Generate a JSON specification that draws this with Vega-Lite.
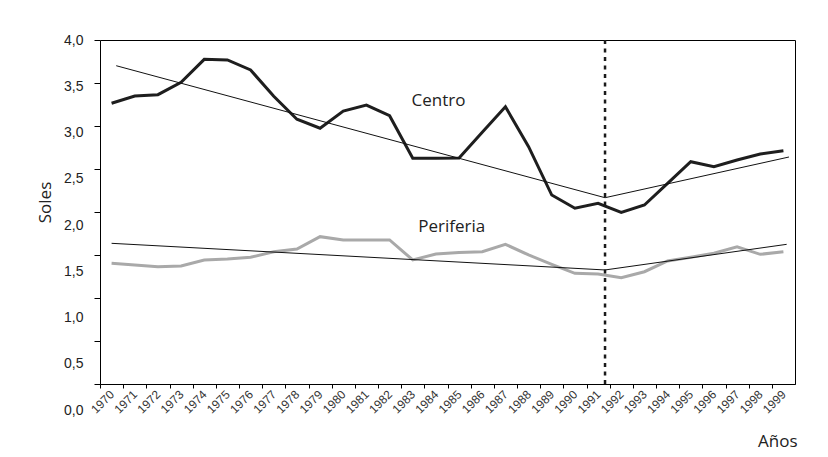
{
  "$schema": "https://vega.github.io/schema/vega-lite/v6.json",
  "width": 695,
  "height": 344,
  "autosize": {"type": "none"},
  "padding": {"left": 100, "top": 40, "right": 33, "bottom": 73},
  "background": "#ffffff",
  "config": {
    "view": {"stroke": "#000000", "strokeWidth": 1},
    "axis": {"grid": false, "domainColor": "#000000", "tickColor": "#000000", "labelColor": "#222222", "titleColor": "#222222"}
  },
  "datasets": {
    "datos": [
      {"año": 1970, "serie": "Centro", "soles": 3.316},
      {"año": 1971, "serie": "Centro", "soles": 3.395},
      {"año": 1972, "serie": "Centro", "soles": 3.409},
      {"año": 1973, "serie": "Centro", "soles": 3.543},
      {"año": 1974, "serie": "Centro", "soles": 3.791},
      {"año": 1975, "serie": "Centro", "soles": 3.784},
      {"año": 1976, "serie": "Centro", "soles": 3.676},
      {"año": 1977, "serie": "Centro", "soles": 3.391},
      {"año": 1978, "serie": "Centro", "soles": 3.143},
      {"año": 1979, "serie": "Centro", "soles": 3.046},
      {"año": 1980, "serie": "Centro", "soles": 3.232},
      {"año": 1981, "serie": "Centro", "soles": 3.297},
      {"año": 1982, "serie": "Centro", "soles": 3.182},
      {"año": 1983, "serie": "Centro", "soles": 2.721},
      {"año": 1984, "serie": "Centro", "soles": 2.721},
      {"año": 1985, "serie": "Centro", "soles": 2.724},
      {"año": 1986, "serie": "Centro", "soles": 3.002},
      {"año": 1987, "serie": "Centro", "soles": 3.279},
      {"año": 1988, "serie": "Centro", "soles": 2.847},
      {"año": 1989, "serie": "Centro", "soles": 2.324},
      {"año": 1990, "serie": "Centro", "soles": 2.181},
      {"año": 1991, "serie": "Centro", "soles": 2.235},
      {"año": 1992, "serie": "Centro", "soles": 2.137},
      {"año": 1993, "serie": "Centro", "soles": 2.216},
      {"año": 1994, "serie": "Centro", "soles": 2.451},
      {"año": 1995, "serie": "Centro", "soles": 2.684},
      {"año": 1996, "serie": "Centro", "soles": 2.630},
      {"año": 1997, "serie": "Centro", "soles": 2.703},
      {"año": 1998, "serie": "Centro", "soles": 2.768},
      {"año": 1999, "serie": "Centro", "soles": 2.803},
      {"año": 1970, "serie": "Periferia", "soles": 1.586},
      {"año": 1971, "serie": "Periferia", "soles": 1.568},
      {"año": 1972, "serie": "Periferia", "soles": 1.549},
      {"año": 1973, "serie": "Periferia", "soles": 1.557},
      {"año": 1974, "serie": "Periferia", "soles": 1.622},
      {"año": 1975, "serie": "Periferia", "soles": 1.632},
      {"año": 1976, "serie": "Periferia", "soles": 1.651},
      {"año": 1977, "serie": "Periferia", "soles": 1.711},
      {"año": 1978, "serie": "Periferia", "soles": 1.741},
      {"año": 1979, "serie": "Periferia", "soles": 1.874},
      {"año": 1980, "serie": "Periferia", "soles": 1.838},
      {"año": 1981, "serie": "Periferia", "soles": 1.838},
      {"año": 1982, "serie": "Periferia", "soles": 1.838},
      {"año": 1983, "serie": "Periferia", "soles": 1.622},
      {"año": 1984, "serie": "Periferia", "soles": 1.686},
      {"año": 1985, "serie": "Periferia", "soles": 1.703},
      {"año": 1986, "serie": "Periferia", "soles": 1.711},
      {"año": 1987, "serie": "Periferia", "soles": 1.791},
      {"año": 1988, "serie": "Periferia", "soles": 1.676},
      {"año": 1989, "serie": "Periferia", "soles": 1.575},
      {"año": 1990, "serie": "Periferia", "soles": 1.478},
      {"año": 1991, "serie": "Periferia", "soles": 1.470},
      {"año": 1992, "serie": "Periferia", "soles": 1.430},
      {"año": 1993, "serie": "Periferia", "soles": 1.495},
      {"año": 1994, "serie": "Periferia", "soles": 1.611},
      {"año": 1995, "serie": "Periferia", "soles": 1.651},
      {"año": 1996, "serie": "Periferia", "soles": 1.694},
      {"año": 1997, "serie": "Periferia", "soles": 1.765},
      {"año": 1998, "serie": "Periferia", "soles": 1.683},
      {"año": 1999, "serie": "Periferia", "soles": 1.711}
    ],
    "tendencia": [
      {"año": 1970.2, "serie": "Centro", "soles": 3.722},
      {"año": 1991.3, "serie": "Centro", "soles": 2.295},
      {"año": 1999.24, "serie": "Centro", "soles": 2.735},
      {"año": 1970.0, "serie": "Periferia", "soles": 1.802},
      {"año": 1991.3, "serie": "Periferia", "soles": 1.514},
      {"año": 1999.14, "serie": "Periferia", "soles": 1.791}
    ],
    "corte": [{"año": 1991.3}],
    "etiquetas": [
      {"año": 1982.95, "soles": 3.344, "texto": "Centro"},
      {"año": 1983.24, "soles": 1.978, "texto": "Periferia"}
    ]
  },
  "encoding": {
    "x": {
      "field": "año",
      "type": "quantitative",
      "scale": {"domain": [1969.5, 1999.5], "nice": false, "zero": false},
      "axis": {
        "values": [1970, 1971, 1972, 1973, 1974, 1975, 1976, 1977, 1978, 1979, 1980, 1981, 1982, 1983, 1984, 1985, 1986, 1987, 1988, 1989, 1990, 1991, 1992, 1993, 1994, 1995, 1996, 1997, 1998, 1999],
        "format": "d",
        "tickOffset": -11.58,
        "labelOffset": 11.58,
        "tickSize": 4,
        "labelAngle": -45,
        "labelAlign": "right",
        "labelBaseline": "middle",
        "labelPadding": 4,
        "labelFont": "Liberation Sans",
        "labelFontSize": 12,
        "labelColor": "#333333",
        "labelOverlap": false,
        "labelBound": false,
        "labelFlush": false,
        "title": "Años",
        "titleFont": "Open Sans",
        "titleFontSize": 17,
        "titleFontWeight": "normal",
        "titleAnchor": "end",
        "titleAlign": "right",
        "titleBaseline": "middle",
        "titleX": 697,
        "titleY": 57
      }
    }
  },
  "resolve": {"axis": {"y": "independent"}},
  "layer": [
    {
      "data": {"name": "datos"},
      "mark": {"type": "line", "strokeWidth": 3},
      "encoding": {
        "y": {
          "field": "soles",
          "type": "quantitative",
          "scale": {"domain": [0, 4], "range": [370, 0], "nice": false, "zero": false},
          "axis": {
            "orient": "left",
            "values": [4, 3.5351, 3.0703, 2.6054, 2.1405, 1.6757, 1.2108, 0.7459, 0.2811],
            "labels": false,
            "domain": false,
            "tickSize": 6,
            "title": "Soles",
            "titleFont": "Open Sans",
            "titleFontSize": 17,
            "titleFontWeight": "normal",
            "titleAngle": -90,
            "titleAlign": "center",
            "titleBaseline": "middle",
            "titleX": -55,
            "titleY": 162
          }
        },
        "color": {
          "field": "serie",
          "type": "nominal",
          "scale": {"domain": ["Centro", "Periferia"], "range": ["#1e1e1e", "#a9a9a9"]},
          "legend": null
        }
      }
    },
    {
      "data": {"name": "tendencia"},
      "mark": {"type": "line", "strokeWidth": 1, "color": "#111111"},
      "encoding": {
        "y": {
          "field": "soles",
          "type": "quantitative",
          "scale": {"domain": [0, 4], "range": [370, 0], "nice": false, "zero": false},
          "axis": null
        },
        "detail": {"field": "serie", "type": "nominal"}
      }
    },
    {
      "data": {"name": "corte"},
      "mark": {"type": "rule", "strokeWidth": 2.5, "color": "#1a1a1a", "strokeDash": [4, 4.5]},
      "encoding": {}
    },
    {
      "data": {"name": "etiquetas"},
      "mark": {"type": "text", "align": "left", "baseline": "middle", "font": "Open Sans", "fontSize": 17, "color": "#222222"},
      "encoding": {
        "y": {
          "field": "soles",
          "type": "quantitative",
          "scale": {"domain": [0, 4], "range": [370, 0], "nice": false, "zero": false},
          "axis": {
            "orient": "left",
            "values": [0, 0.5, 1, 1.5, 2, 2.5, 3, 3.5, 4],
            "labelExpr": "replace(format(datum.value, '.1f'), '.', ',')",
            "ticks": false,
            "tickSize": 0,
            "domain": false,
            "labelPadding": 17,
            "labelFont": "Liberation Sans",
            "labelFontSize": 14,
            "labelOverlap": false,
            "labelBound": false,
            "labelFlush": false,
            "title": null
          }
        },
        "text": {"field": "texto", "type": "nominal"}
      }
    }
  ]
}
